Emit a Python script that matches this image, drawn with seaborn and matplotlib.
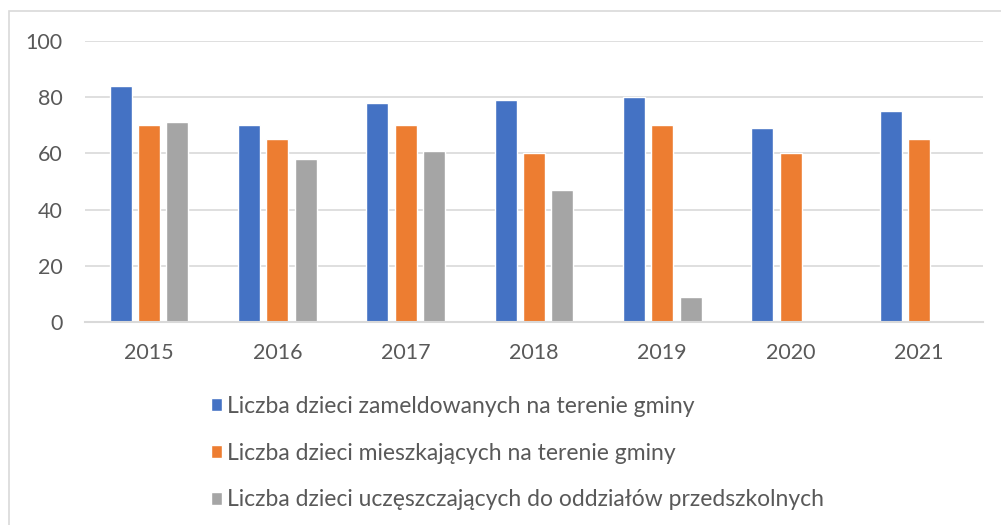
import pandas as pd
import seaborn as sns
import matplotlib.pyplot as plt
from matplotlib.patches import Rectangle

# Data
years = ["2015", "2016", "2017", "2018", "2019", "2020", "2021"]
zameldowane = [84, 70, 78, 79, 80, 69, 75]
mieszkajace = [70, 65, 70, 60, 70, 60, 65]
uczeszczajace = [71, 58, 61, 47, 9, None, None]

series_names = [
    "Liczba dzieci zameldowanych na terenie gminy",
    "Liczba dzieci mieszkających na terenie gminy",
    "Liczba dzieci uczęszczających do oddziałów przedszkolnych",
]
colors = ["#4472C4", "#ED7D31", "#A5A5A5"]

rows = []
for name, vals in zip(series_names, [zameldowane, mieszkajace, uczeszczajace]):
    for y, v in zip(years, vals):
        rows.append({"Rok": y, "Seria": name, "Liczba": v})
df = pd.DataFrame(rows)

sns.set_style("white")
plt.rcParams["font.family"] = ["Lato", "DejaVu Sans"]
text_color = "#595959"
grid_color = "#D9D9D9"

fig = plt.figure(figsize=(10.01, 5.25), dpi=100)
W, H = 1001, 525
ax = fig.add_axes([85 / W, 1 - 322 / H, (983 - 85) / W, (322 - 41) / H])

sns.barplot(data=df, x="Rok", y="Liczba", hue="Seria", hue_order=series_names,
            palette=colors, width=0.66, gap=0.22, saturation=1,
            errorbar=None, ax=ax)

ax.set_ylim(0, 100)
ax.set_yticks(range(0, 101, 20))
ax.set_xlim(-0.5, len(years) - 0.5)
ax.set_xlabel("")
ax.set_ylabel("")
ax.yaxis.grid(True, color=grid_color, linewidth=1.2)
ax.set_axisbelow(True)
for side in ["left", "right", "top"]:
    ax.spines[side].set_visible(False)
ax.spines["bottom"].set_color(grid_color)
ax.spines["bottom"].set_linewidth(1.5)
ax.tick_params(axis="both", length=0, labelsize=15.5, labelcolor=text_color)
ax.tick_params(axis="x", pad=15)
ax.tick_params(axis="y", pad=16)

sns.move_legend(ax, "upper left", bbox_to_anchor=(211 / W, 1 - 396 / H),
                bbox_transform=fig.transFigure, frameon=False, title=None,
                fontsize=16.5, labelcolor=text_color, borderpad=0,
                borderaxespad=0, handlelength=0.48, handleheight=0.48,
                handletextpad=0.22, labelspacing=1.12)

# chart border
fig.add_artist(Rectangle((9 / W, -0.1), 1.2, 1 - 11 / H + 0.1,
                         transform=fig.transFigure, fill=False,
                         edgecolor=grid_color, linewidth=1.2))

fig.savefig("out.png", dpi=100)
